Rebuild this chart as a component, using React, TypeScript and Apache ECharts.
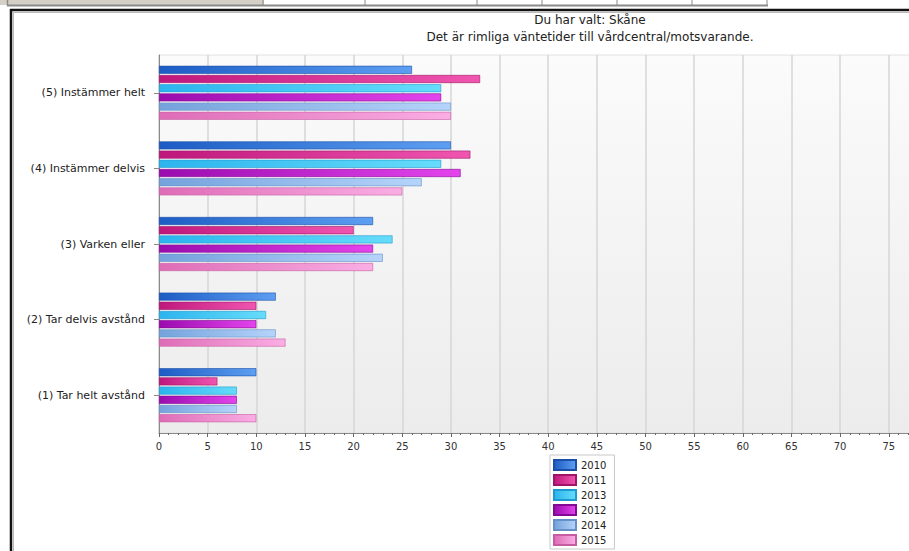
import React, { useEffect, useRef } from "react";
import * as echarts from "echarts";

const categories = [
  "(5) Instämmer helt",
  "(4) Instämmer delvis",
  "(3) Varken eller",
  "(2) Tar delvis avstånd",
  "(1) Tar helt avstånd",
];

const seriesNames = ["2010", "2011", "2013", "2012", "2014", "2015"];

const v2010 = [26, 30, 22, 12, 10];
const v2011 = [33, 32, 20, 10, 6];
const v2013 = [29, 29, 24, 11, 8];
const v2012 = [29, 31, 22, 10, 8];
const v2014 = [30, 27, 23, 12, 8];
const v2015 = [30, 25, 22, 13, 10];

const seriesValues = [v2010, v2011, v2013, v2012, v2014, v2015];

const titleLine1 = "Du har valt: Skåne";
const titleLine2 = "Det är rimliga väntetider till vårdcentral/motsvarande.";

const palette = [
  { from: "#1c5cc4", to: "#5e9ff2", border: "#1a4fa8" },
  { from: "#bf177c", to: "#f056b0", border: "#a01468" },
  { from: "#2cb4ee", to: "#66dcfa", border: "#1f9ad0" },
  { from: "#9a0cae", to: "#e444ec", border: "#840a96" },
  { from: "#74a2dc", to: "#b6d4fa", border: "#6690c8" },
  { from: "#de6cb6", to: "#faaee4", border: "#c85ca2" },
];

const FONT = "DejaVu Sans, Verdana, sans-serif";

export default function App() {
  const ref = useRef<HTMLDivElement>(null);

  useEffect(() => {
    if (!ref.current) return;
    const chart = echarts.init(ref.current, undefined, { renderer: "svg" });

    const series = seriesNames.map((name, i) => ({
      name,
      type: "bar",
      data: seriesValues[i],
      barWidth: 8,
      barGap: "15%",
      itemStyle: {
        color: new echarts.graphic.LinearGradient(0, 0, 1, 0, [
          { offset: 0, color: palette[i].from },
          { offset: 1, color: palette[i].to },
        ]),
        borderColor: palette[i].border,
        borderWidth: 0.6,
      },
    }));

    const dividers = [263, 365, 477, 542, 617, 692, 767];

    chart.setOption({
      animation: false,
      backgroundColor: "#ffffff",
      title: {
        text: titleLine1 + "\n" + titleLine2,
        left: 585,
        top: 6,
        textAlign: "center",
        textStyle: {
          fontFamily: FONT,
          fontSize: 12,
          fontWeight: "normal",
          color: "#222",
          lineHeight: 17,
        },
      },
      legend: {
        orient: "vertical",
        left: 550,
        top: 455,
        padding: [4, 8, 3, 3],
        borderColor: "#c8c8c8",
        borderWidth: 1,
        itemWidth: 22,
        itemHeight: 10,
        itemGap: 3,
        icon: "rect",
        data: seriesNames,
        textStyle: { fontFamily: FONT, fontSize: 10, color: "#222", lineHeight: 12 },
      },
      grid: {
        left: 159,
        top: 55,
        width: 778.4,
        bottom: 147,
        show: true,
        backgroundColor: new echarts.graphic.LinearGradient(0, 0, 0, 1, [
          { offset: 0, color: "#fbfbfb" },
          { offset: 1, color: "#ececec" },
        ]),
        borderColor: "#e2e2e2",
        borderWidth: 1,
      },
      xAxis: {
        type: "value",
        min: 0,
        max: 80,
        interval: 5,
        axisLine: { show: true, lineStyle: { color: "#8a8a8a" } },
        axisTick: { show: true, length: 4, lineStyle: { color: "#666" } },
        minorTick: { show: true, splitNumber: 5, length: 2, lineStyle: { color: "#666" } },
        splitLine: { show: true, lineStyle: { color: "#d6d6d6", width: 1.5 } },
        axisLabel: { fontFamily: FONT, fontSize: 10, color: "#333", margin: 8, showMaxLabel: false },
      },
      yAxis: {
        type: "category",
        inverse: true,
        data: categories,
        axisLine: { show: true, lineStyle: { color: "#8a8a8a" } },
        axisTick: { show: true, alignWithLabel: true, length: 5, lineStyle: { color: "#888" } },
        axisLabel: { fontFamily: FONT, fontSize: 11, color: "#222", margin: 14 },
      },
      series,
      graphic: [
        { type: "rect", shape: { x: 0, y: 0, width: 264, height: 5 }, style: { fill: "#d4d0c8" } },
        { type: "line", shape: { x1: 7, y1: 5.5, x2: 768, y2: 5.5 }, style: { stroke: "#8a8a8a", lineWidth: 2 } },
        { type: "line", shape: { x1: 7.5, y1: 0, x2: 7.5, y2: 6 }, style: { stroke: "#8a8a8a", lineWidth: 1.5 } },
        ...dividers.map((x) => ({
          type: "line",
          shape: { x1: x, y1: 0, x2: x, y2: 6 },
          style: { stroke: "#8a8a8a", lineWidth: 1 },
        })),
        { type: "line", shape: { x1: 10, y1: 10, x2: 960, y2: 10 }, style: { stroke: "#111", lineWidth: 2.5 } },
        { type: "line", shape: { x1: 11, y1: 9, x2: 11, y2: 580 }, style: { stroke: "#111", lineWidth: 2.5 } },
        { type: "line", shape: { x1: 13, y1: 12.5, x2: 960, y2: 12.5 }, style: { stroke: "#bbb", lineWidth: 1 } },
        { type: "line", shape: { x1: 13.5, y1: 12, x2: 13.5, y2: 580 }, style: { stroke: "#bbb", lineWidth: 1 } },
      ],
    });

    return () => chart.dispose();
  }, []);

  return (
    <div
      style={{
        position: "fixed",
        left: 0,
        top: 0,
        width: 909,
        height: 551,
        overflow: "hidden",
        background: "#fff",
      }}
    >
      <div ref={ref} style={{ position: "absolute", left: 0, top: 0, width: 960, height: 580 }} />
    </div>
  );
}
